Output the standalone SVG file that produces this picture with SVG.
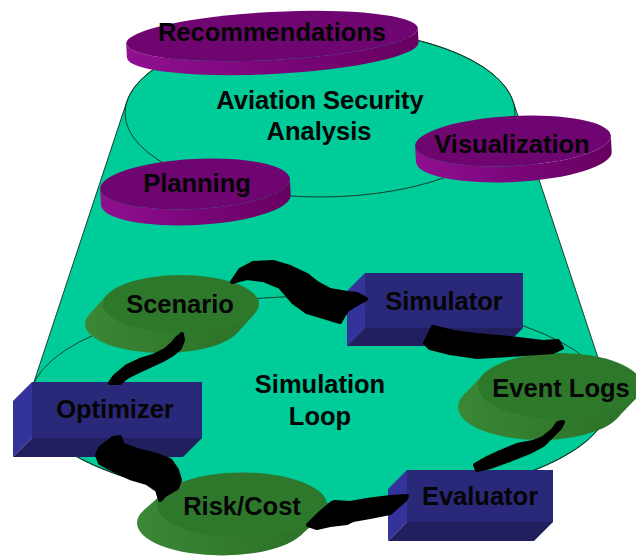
<svg xmlns="http://www.w3.org/2000/svg" width="636" height="557" viewBox="0 0 636 557">
<defs>
<linearGradient id="pside" x1="0" y1="0" x2="1" y2="0">
<stop offset="0" stop-color="#901090"/><stop offset="0.5" stop-color="#7a067a"/><stop offset="1" stop-color="#68005f"/>
</linearGradient>
<linearGradient id="gside" x1="0" y1="0" x2="1" y2="0">
<stop offset="0" stop-color="#3a8735"/><stop offset="1" stop-color="#2c7228"/>
</linearGradient>
</defs>
<style>
.bg{fill:#00cc99;stroke:#14402f;stroke-width:1}
.ring{fill:none;stroke:#14402f;stroke-width:1}
.ptop{fill:#6e0570}
.pside{fill:url(#pside)}
.gtop{fill:#2e782b}
.gside{fill:url(#gside)}
.bfront{fill:#2a2879}
.bleft{fill:#34339c}
.bbottom{fill:#221f5e}
.lbl{font-family:"Liberation Sans",Arial,sans-serif;font-weight:bold;font-size:25.5px;fill:#050505;text-anchor:middle}
.arrow{fill:#000;stroke:#000;stroke-width:4;stroke-linejoin:round}
</style>

<g id="background">
<path class="bg" d="M127,101 L32,388 A290,104 0 1 0 608,388 L513,101 A195,84 0 0 0 127,101 Z"/>
<ellipse class="ring" cx="320" cy="113" rx="195" ry="84"/>
<ellipse class="ring" cx="320" cy="400" rx="290" ry="104"/>
<text class="lbl" x="320" y="109">Aviation Security</text>
<text class="lbl" x="319" y="140">Analysis</text>
<text class="lbl" x="320" y="393">Simulation</text>
<text class="lbl" x="320" y="425">Loop</text>
</g>

<g id="recommendations">
<g transform="translate(272,36) rotate(-3)">
<path class="pside" d="M-146,0 A146,24 0 0 0 146,0 L146,14 A146,24 0 0 1 -146,14 Z"/>
<ellipse class="ptop" rx="146" ry="24"/>
</g>
<text class="lbl" x="272" y="41">Recommendations</text>
</g>

<g id="visualization">
<g transform="translate(513,141) rotate(-3)">
<path class="pside" d="M-98,0 A98,25 0 0 0 98,0 L98,16 A98,25 0 0 1 -98,16 Z"/>
<ellipse class="ptop" rx="98" ry="25"/>
</g>
<text class="lbl" x="512" y="153">Visualization</text>
</g>

<g id="planning">
<g transform="translate(195,184) rotate(-3)">
<path class="pside" d="M-95,0 A95,25 0 0 0 95,0 L95,16 A95,25 0 0 1 -95,16 Z"/>
<ellipse class="ptop" rx="95" ry="25"/>
</g>
<text class="lbl" x="197" y="192">Planning</text>
</g>

<g id="scenario">
<g transform="translate(181,304)">
<ellipse class="gside" cx="-18" cy="20" rx="78" ry="29"/>
<polygon class="gside" points="74,9.2 56,29.2 -92,10.8 -74,-9.2"/>
<ellipse class="gtop" rx="78" ry="29"/>
</g>
<text class="lbl" x="180" y="313">Scenario</text>
</g>

<g id="simulator">
<polygon class="bleft" points="365,273 347,291 347,346 365,328"/>
<polygon class="bbottom" points="365,328 347,346 505,346 523,328"/>
<rect class="bfront" x="365" y="273" width="158" height="55"/>
<text class="lbl" x="444" y="310">Simulator</text>
</g>

<g id="event-logs">
<g transform="translate(560,386)">
<ellipse class="gside" cx="-20" cy="21" rx="82" ry="33"/>
<polygon class="gside" points="76.6,11.8 56.6,32.8 -96.6,9.2 -76.6,-11.8"/>
<ellipse class="gtop" rx="82" ry="33"/>
</g>
<text class="lbl" x="561" y="397">Event Logs</text>
</g>

<g id="evaluator">
<polygon class="bleft" points="407,470 388,489 388,541 407,522"/>
<polygon class="bbottom" points="407,522 388,541 534,541 553,522"/>
<rect class="bfront" x="407" y="470" width="146" height="52"/>
<text class="lbl" x="480" y="505">Evaluator</text>
</g>

<g id="risk-cost">
<g transform="translate(242,505)">
<ellipse class="gside" cx="-20" cy="18" rx="85" ry="32.5"/>
<polygon class="gside" points="78.2,12.7 58.2,30.7 -98.2,5.3 -78.2,-12.7"/>
<ellipse class="gtop" rx="85" ry="32.5"/>
</g>
<text class="lbl" x="242" y="515">Risk/Cost</text>
</g>

<g id="optimizer">
<polygon class="bleft" points="32,382 13,401 13,457 32,438"/>
<polygon class="bbottom" points="32,438 13,457 183,457 202,438"/>
<rect class="bfront" x="32" y="382" width="170" height="56"/>
<text class="lbl" x="115" y="418">Optimizer</text>
</g>

<g id="connectors">
<path class="arrow" d="M232,282 L240,270 L253,263 L273,262 L290,267 L307,275 L317,283 L330,290 L347,293 L357,294 L366,299 L357,304 L347,310 L340,322 L327,318 L307,312 L293,302 L280,287 L263,280 L247,278 Z"/>
<path class="arrow" d="M425,343 L433,327 L453,332 L477,335 L510,338 L543,342 L558,341 L562,348 L553,352 L510,355 L477,357 L450,353 L430,348 Z"/>
<path class="arrow" d="M563,422 L560,428 L550,438 L543,445 L530,452 L510,460 L490,467 L477,470 L475,465 L487,458 L500,452 L517,445 L533,442 L543,438 L553,430 L558,423 Z"/>
<path class="arrow" d="M308,525 L320,513 L332,503 L335,502 L350,503 L367,500 L390,497 L407,496 L405,500 L390,513 L370,517 L353,520 L347,523 L330,525 L317,528 Z"/>
<path class="arrow" d="M97,455 L100,448 L113,438 L120,437 L123,445 L137,450 L157,455 L170,460 L177,470 L180,480 L177,488 L165,495 L160,500 L157,490 L147,483 L130,478 L113,470 L100,463 Z"/>
<path class="arrow" d="M110,383 L115,376 L127,366 L140,360 L153,356 L165,350 L172,344 L177,338 L182,334 L183,340 L180,348 L173,354 L163,360 L150,366 L137,372 L127,377 L120,383 Z"/>
</g>
</svg>
